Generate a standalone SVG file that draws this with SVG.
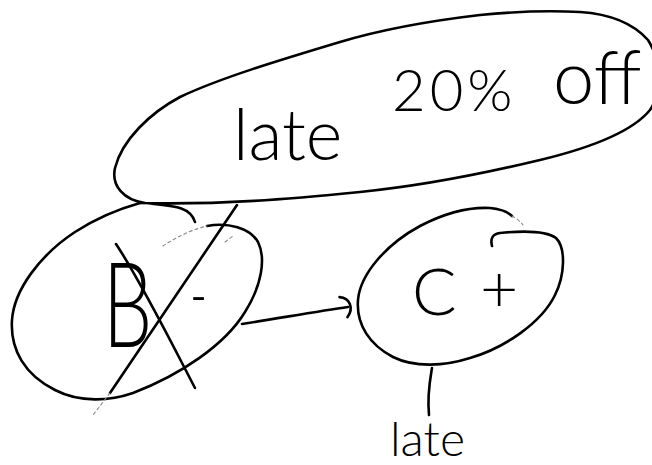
<svg xmlns="http://www.w3.org/2000/svg" width="652" height="465" viewBox="0 0 652 465">
<style>
.ink{fill:none;stroke:#000;stroke-width:2.6;stroke-linecap:round;stroke-linejoin:round}
.faint{fill:none;stroke:#8a8a8a;stroke-width:1.1;stroke-dasharray:3 3;stroke-linecap:round}
.hand{font-family:Lato,"Open Sans","Liberation Sans",sans-serif;font-weight:300;fill:#000}
</style>
<defs>
<marker id="hook" markerUnits="userSpaceOnUse" markerWidth="30" markerHeight="30" refX="0" refY="0" orient="auto" overflow="visible">
<path d="M -7 -11 C 3 -9 6 2 -2 10" fill="none" stroke="#000" stroke-width="2.6" stroke-linecap="round"/>
</marker>
</defs>
<rect width="652" height="465" fill="#fff"/>
<g id="node-late-20-off">
<path class="ink" d="M 140 203 C 220 205 290 199 360 192 C 430 185 490 172 540 160 C 590 148 632 132 650 110 C 662 92 662 62 648 40 C 632 22 610 14 580 12 C 540 10 510 12 480 15 C 420 22 380 30 340 42 C 280 60 220 78 180 97 C 150 113 122 140 115 168 C 111 186 124 200 145 203 C 170 206 190 205 195 222"/>
<text class="hand" font-size="70"><tspan x="233" y="160">late</tspan><tspan x="392" y="111" font-size="58" letter-spacing="4">20%</tspan><tspan x="553" y="104" font-size="74">off</tspan></text>
</g>
<g id="node-b-minus">
<path class="ink" d="M 207 226 C 228 222 250 228 258 242 C 266 258 262 285 245 312 C 225 345 180 375 133 393 C 110 401 80 403 55 390 C 25 375 10 350 12 320 C 14 290 40 255 75 232 C 95 219 115 210 140 203"/>
<path class="faint" d="M 163 246 C 175 238 190 230 207 226"/>
<path class="ink" d="M 237 205 L 110 393"/>
<path class="faint" d="M 110 393 L 93 415"/>
<path class="faint" d="M 225 242 L 233 236"/>
<path class="ink" d="M 116 244 C 140 280 170 340 195 388" stroke-width="3.2"/>
<text class="hand" transform="translate(103,347) scale(0.66,1)" font-size="118"><tspan x="0" y="0">B</tspan><tspan x="132" y="-27" font-size="70">-</tspan></text>
</g>
<g id="node-c-plus">
<path class="ink" d="M 492 246 C 490 238 493 234 500 233 C 520 231 545 230 556 238 C 566 248 565 275 555 295 C 542 322 505 348 470 358 C 445 366 415 368 393 357 C 370 345 356 325 358 300 C 360 275 385 245 420 226 C 445 213 470 207 490 208 C 500 209 508 212 512 216"/>
<path class="faint" d="M 512 216 C 516 218 520 221 523 225"/>
<text class="hand" font-size="66"><tspan x="412" y="315">C</tspan><tspan x="480" y="312">+</tspan></text>
</g>
<g id="note-late">
<text class="hand" font-size="48" x="390" y="456">late</text>
</g>
<g id="connectors">
<path class="ink" d="M 242 324 C 280 318 320 311 348 307" marker-end="url(#hook)"/>
<path class="ink" d="M 432 368 C 430 380 427 395 429 415"/>
</g>
</svg>
